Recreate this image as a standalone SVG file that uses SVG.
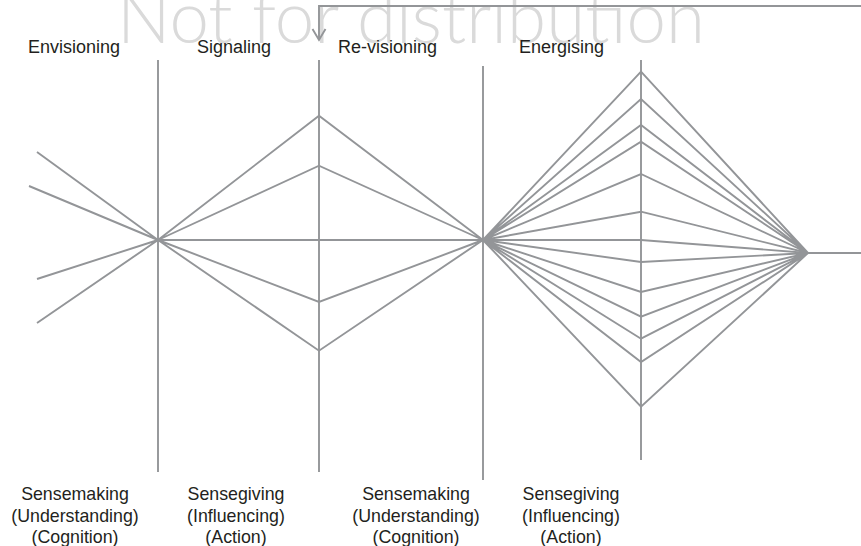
<svg xmlns="http://www.w3.org/2000/svg" width="861" height="546" viewBox="0 0 861 546">
<style>
.ln{stroke:#939598;stroke-width:1.9;fill:none;stroke-linecap:butt;stroke-linejoin:miter}
.lbl{font-family:"Liberation Sans",Arial,sans-serif;font-size:18px;fill:#231f20}
.bot{font-family:"Liberation Sans",Arial,sans-serif;font-size:17.8px;fill:#231f20;text-anchor:middle}
.wm{font-family:Lato,"Open Sans",Roboto,sans-serif;font-weight:300;font-size:72px;fill:#dadada}
</style>
<text class="wm" x="117" y="43" textLength="588" lengthAdjust="spacingAndGlyphs">Not for distribution</text>

<g id="axis-envisioning">
<line class="ln" x1="158" y1="60" x2="158" y2="472"/>
<text class="lbl" x="28" y="53">Envisioning</text>
<text class="bot" x="75" y="500">Sensemaking</text>
<text class="bot" x="75" y="521.5">(Understanding)</text>
<text class="bot" x="75" y="543">(Cognition)</text>
</g>
<g id="axis-signaling">
<line class="ln" x1="319" y1="60" x2="319" y2="472"/>
<text class="lbl" x="197" y="53">Signaling</text>
<text class="bot" x="236" y="500">Sensegiving</text>
<text class="bot" x="236" y="521.5">(Influencing)</text>
<text class="bot" x="236" y="543">(Action)</text>
</g>
<g id="axis-revisioning">
<line class="ln" x1="483" y1="66" x2="483" y2="480"/>
<text class="lbl" x="338" y="53">Re-visioning</text>
<text class="bot" x="416" y="500">Sensemaking</text>
<text class="bot" x="416" y="521.5">(Understanding)</text>
<text class="bot" x="416" y="543">(Cognition)</text>
</g>
<g id="axis-energising">
<line class="ln" x1="641" y1="60" x2="641" y2="460"/>
<text class="lbl" x="519" y="53">Energising</text>
<text class="bot" x="571" y="500">Sensegiving</text>
<text class="bot" x="571" y="521.5">(Influencing)</text>
<text class="bot" x="571" y="543">(Action)</text>
</g>

<g id="connectors">
<path class="ln" d="M37 152 L158 240 M29 186 L158 240 M37 279 L158 240 M37 323 L158 240"/>
<path class="ln" d="M158 240 L641 240 L808 253 L861 253"/>
<path class="ln" d="M158 240 L319 115.7 L483 240 M158 240 L319 165.7 L483 240 M158 240 L319 302 L483 240 M158 240 L319 350.7 L483 240"/>
<path class="ln" d="M483 240 L641 71.7 L808 253 M483 240 L641 99 L808 253 M483 240 L641 125 L808 253 M483 240 L641 141.7 L808 253 M483 240 L641 174 L808 253 M483 240 L641 211.7 L808 253 M483 240 L641 262 L808 253 M483 240 L641 292 L808 253 M483 240 L641 316.7 L808 253 M483 240 L641 338.7 L808 253 M483 240 L641 362 L808 253 M483 240 L641 406.7 L808 253"/>
<path class="ln" d="M861 6 L319 6 L319 40"/>
<path class="ln" d="M312.5 29 L319 40 L325.5 29"/>
</g>
</svg>
